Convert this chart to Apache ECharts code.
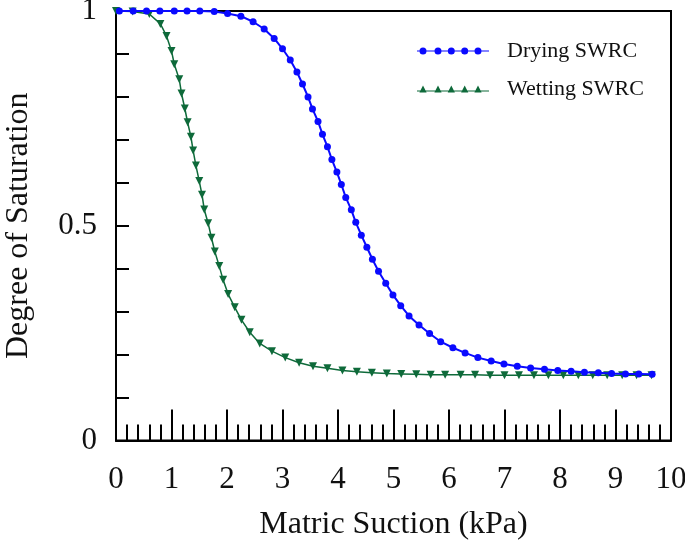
<!DOCTYPE html>
<html>
<head>
<meta charset="utf-8">
<script src="https://cdn.jsdelivr.net/npm/echarts@6/dist/echarts.min.js"></script>
<style>html,body{margin:0;padding:0;background:#fff}#c{width:685px;height:546px}</style>
</head>
<body>
<div id="c"></div>
<script>
// Matric suction (kPa) and degree of saturation
const dryingX = [0.06,0.31,0.55,0.79,1.05,1.28,1.51,1.77,2.01,2.25,2.47,2.67,2.85,3.00,3.14,3.26,3.36,3.46,3.54,3.64,3.72,3.81,3.89,3.98,4.06,4.14,4.24,4.32,4.42,4.52,4.62,4.73,4.86,4.99,5.13,5.28,5.46,5.65,5.85,6.07,6.29,6.52,6.76,6.99,7.23,7.47,7.72,7.96,8.20,8.44,8.69,8.93,9.18,9.42,9.66];
const dryingY = [1.000,1.000,1.000,1.000,1.000,1.000,1.000,0.999,0.994,0.988,0.975,0.958,0.936,0.912,0.886,0.858,0.830,0.800,0.772,0.743,0.713,0.684,0.654,0.625,0.596,0.566,0.537,0.508,0.478,0.450,0.422,0.394,0.366,0.339,0.314,0.290,0.269,0.249,0.230,0.216,0.204,0.193,0.185,0.178,0.173,0.169,0.166,0.163,0.161,0.159,0.158,0.156,0.155,0.155,0.154];
const wettingX = [0.00,0.30,0.60,0.80,0.91,1.00,1.05,1.14,1.18,1.24,1.29,1.35,1.39,1.44,1.50,1.55,1.59,1.66,1.72,1.78,1.86,1.93,2.02,2.14,2.26,2.41,2.59,2.81,3.05,3.30,3.55,3.81,4.08,4.34,4.61,4.88,5.14,5.41,5.67,5.93,6.21,6.47,6.74,7.00,7.26,7.53,7.79,8.06,8.33,8.59,8.85,9.12,9.38,9.65];
const wettingY = [1.000,0.999,0.993,0.970,0.942,0.907,0.876,0.841,0.808,0.773,0.741,0.707,0.675,0.640,0.604,0.572,0.538,0.506,0.472,0.440,0.406,0.374,0.341,0.310,0.281,0.252,0.226,0.208,0.193,0.181,0.173,0.168,0.163,0.160,0.158,0.156,0.155,0.154,0.153,0.153,0.153,0.153,0.152,0.152,0.152,0.152,0.152,0.152,0.152,0.152,0.152,0.152,0.152,0.152];
const xTicks = [0,1,2,3,4,5,6,7,8,9,10];
const yTickLabels = {0:'0', 0.5:'0.5', 1:'1'};
const seriesNames = ['Drying SWRC','Wetting SWRC'];

const FONT = '"Liberation Serif","Times New Roman",serif';
const BLUE = '#0a0aff';
const GREEN = '#0e6a3a';

const circIcon = 'path://M0,3.4L72,3.4L72,4.6L0,4.6Z' +
  [6,21,34.3,47.7,61].map(c => `M${c-3.5},4A3.5,3.5 0 1 1 ${c+3.5},4A3.5,3.5 0 1 1 ${c-3.5},4Z`).join('');
const triIcon = 'path://M0,5.4L72,5.4L72,6.6L0,6.6Z' +
  [6,21,34.3,47.7,61].map(c => `M${c-3.6},7.5L${c},0.5L${c+3.6},7.5Z`).join('');

const chart = echarts.init(document.getElementById('c'), null, {renderer:'canvas'});
chart.setOption({
  animation: false,
  backgroundColor: '#fff',
  grid: {left: 116, right: 14, top: 11, bottom: 105.5, containLabel: false, outerBoundsMode: 'none',
    show: true, borderColor: '#000', borderWidth: 2, backgroundColor: 'transparent'},
  legend: {
    left: 417, top: 40, orient: 'vertical', padding: 0, itemGap: 16,
    itemWidth: 72, itemHeight: 8,
    textStyle: {fontFamily: FONT, fontSize: 22, color: '#111', padding: [0,0,0,13]},
    data: [
      {name: seriesNames[0], icon: circIcon},
      {name: seriesNames[1], icon: triIcon}
    ]
  },
  xAxis: {
    type: 'value', min: xTicks[0], max: xTicks[xTicks.length-1], interval: 1,
    name: 'Matric Suction (kPa)', nameLocation: 'middle', nameGap: 68,
    nameTextStyle: {fontFamily: FONT, fontSize: 32, color: '#111'},
    axisLine: {show: true, lineStyle: {color: '#000', width: 2}},
    axisTick: {show: true, inside: true, length: 31, lineStyle: {color: '#000', width: 2}},
    minorTick: {show: true, splitNumber: 5, length: 16, lineStyle: {color: '#000', width: 2}},
    axisLabel: {fontFamily: FONT, fontSize: 31, color: '#111', margin: 24},
    splitLine: {show: false}
  },
  yAxis: {
    type: 'value', min: 0, max: 1, interval: 0.1,
    name: 'Degree of Saturation', nameLocation: 'middle', nameGap: 81,
    nameTextStyle: {fontFamily: FONT, fontSize: 32, color: '#111'},
    axisLine: {show: true, lineStyle: {color: '#000', width: 2}},
    axisTick: {show: true, inside: true, length: 13, lineStyle: {color: '#000', width: 2}},
    axisLabel: {fontFamily: FONT, fontSize: 31, color: '#111', margin: 19, showMinLabel: true, showMaxLabel: true,
      formatter: v => { for (const k in yTickLabels) { if (Math.abs(v - Number(k)) < 1e-6) return yTickLabels[k]; } return ''; }},
    splitLine: {show: false}
  },
  series: [
    {
      name: seriesNames[0], type: 'line', clip: false,
      data: dryingX.map((x,i) => [x, dryingY[i]]),
      symbol: 'circle', symbolSize: 7, showAllSymbol: true,
      itemStyle: {color: BLUE}, lineStyle: {color: BLUE, width: 2}, z: 3
    },
    {
      name: seriesNames[1], type: 'line', clip: false,
      data: wettingX.map((x,i) => [x, wettingY[i]]),
      symbol: 'triangle', symbolSize: 8, symbolRotate: 180, showAllSymbol: true,
      itemStyle: {color: GREEN}, lineStyle: {color: GREEN, width: 1.5}, z: 2
    }
  ]
});
</script>
</body>
</html>
